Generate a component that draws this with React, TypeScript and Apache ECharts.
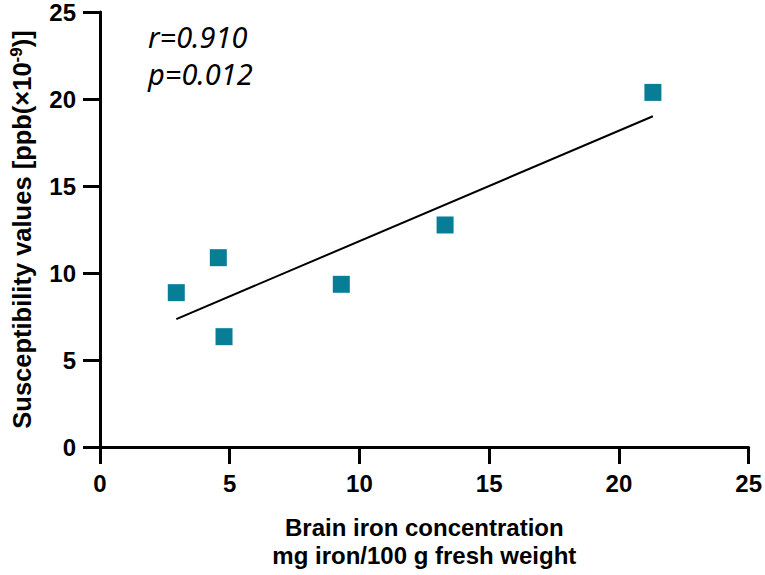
import React, { useEffect, useRef } from "react";
import * as echarts from "echarts";

const ironConc = [2.94, 4.56, 4.78, 9.3, 13.3, 21.31];
const susceptibility = [8.87, 10.88, 6.34, 9.35, 12.76, 20.38];
const fitX = [2.94, 21.31];
const fitY = [7.35, 19.01];
const axisTicks = [0, 5, 10, 15, 20, 25];
const statsText = ["r=0.910", "p=0.012"];

export default function App() {
  const ref = useRef<HTMLDivElement>(null);
  useEffect(() => {
    if (!ref.current) return;
    const chart = echarts.init(ref.current, null, { renderer: "svg" });
    const font = "'Liberation Sans', Arial, sans-serif";
    const axisCommon = {
      type: "value" as const,
      min: axisTicks[0],
      max: axisTicks[axisTicks.length - 1],
      interval: 5,
      splitLine: { show: false },
      axisLine: { show: true, lineStyle: { color: "#000", width: 3 } },
      axisTick: { show: true, inside: false, length: 17, lineStyle: { color: "#000", width: 3 } },
    };
    chart.setOption({
      animation: false,
      backgroundColor: "#fff",
      grid: { left: 96, right: 16, top: 12, bottom: 128 },
      xAxis: {
        ...axisCommon,
        axisLabel: { margin: 24, fontSize: 24, fontWeight: "bold", color: "#000", fontFamily: font },
        name: "Brain iron concentration\nmg iron/100 g fresh weight",
        nameLocation: "middle",
        nameGap: 66,
        nameTextStyle: { fontSize: 24, fontWeight: "bold", color: "#000", fontFamily: font, lineHeight: 28 },
      },
      yAxis: {
        ...axisCommon,
        axisLabel: { margin: 24, fontSize: 24, fontWeight: "bold", color: "#000", fontFamily: font },
        name: "{a|Susceptibility values [ppb(×10}{b|-9}{a|)]}",
        nameLocation: "middle",
        nameRotate: 90,
        nameGap: 65,
        nameTextStyle: {
          rich: {
            a: { fontSize: 25.5, fontWeight: "bold", color: "#000", fontFamily: font },
            b: { fontSize: 17, fontWeight: "bold", color: "#000", fontFamily: font, verticalAlign: "top", padding: [0, 0, 10, 0] },
          },
        },
      },
      graphic: statsText.map((t, i) => ({
        type: "text",
        left: 148,
        top: 22 + i * 37,
        style: {
          text: t,
          font: "italic 29px 'Noto Sans', 'Open Sans', sans-serif",
          fill: "#000",
        },
      })),
      series: [
        {
          type: "line",
          data: fitX.map((x, i) => [x, fitY[i]]),
          showSymbol: false,
          symbol: "none",
          lineStyle: { color: "#000", width: 2 },
          z: 2,
        },
        {
          type: "scatter",
          data: ironConc.map((x, i) => [x, susceptibility[i]]),
          symbol: "rect",
          symbolSize: 17,
          itemStyle: { color: "#077d96", opacity: 1 },
          z: 3,
        },
      ],
    });
    return () => chart.dispose();
  }, []);
  return <div ref={ref} style={{ width: 765, height: 575, position: "absolute", left: 0, top: 0 }} />;
}
